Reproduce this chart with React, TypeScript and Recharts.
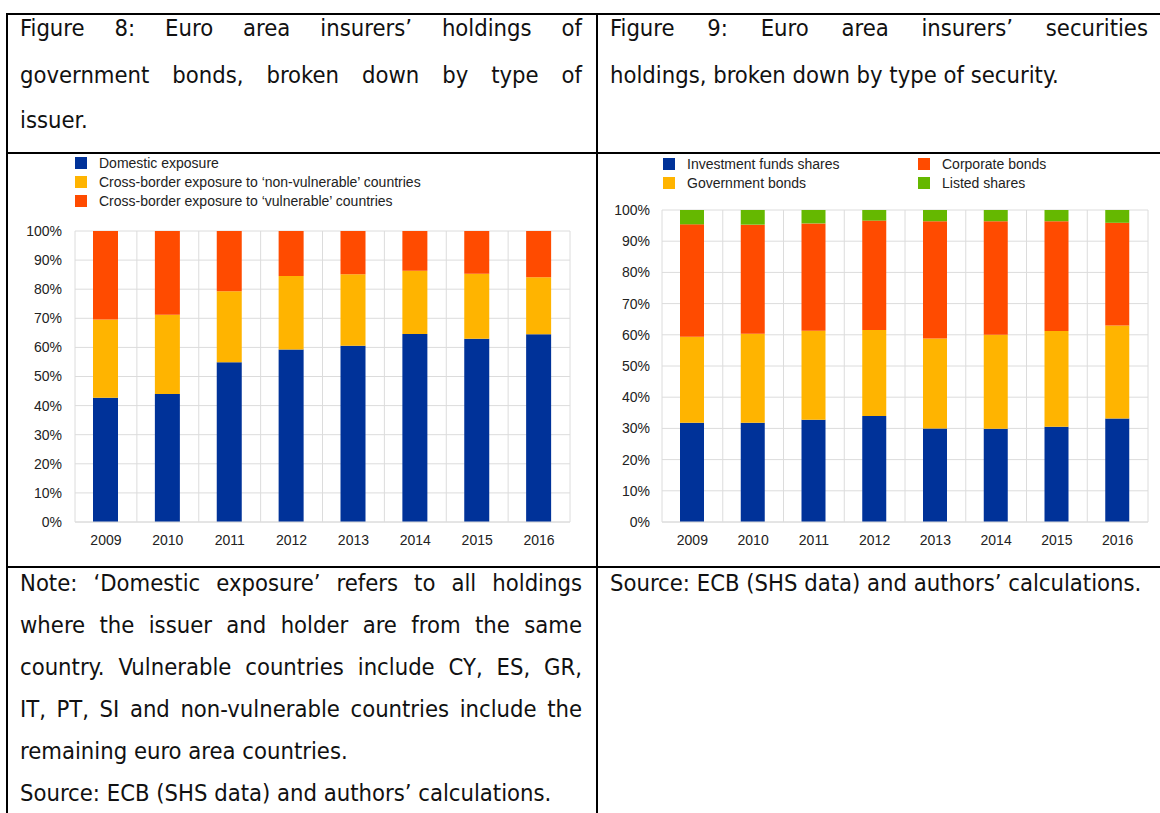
import { Bar, BarChart, CartesianGrid, XAxis, YAxis } from "recharts";

const YEARS = ["2009", "2010", "2011", "2012", "2013", "2014", "2015", "2016"];
const PCT_TICKS = [0, 10, 20, 30, 40, 50, 60, 70, 80, 90, 100];

// Figure 8: government bonds by issuer type (% of total)
const DOMESTIC = [42.7, 44.0, 54.9, 59.3, 60.6, 64.6, 63.0, 64.5];
const NON_VULNERABLE = [26.9, 27.2, 24.4, 25.2, 24.5, 21.7, 22.3, 19.6];
const VULNERABLE = [30.4, 28.8, 20.7, 15.5, 14.9, 13.7, 14.7, 15.9];

// Figure 9: securities holdings by type (% of total)
const FUND_SHARES = [31.8, 31.8, 32.8, 34.0, 30.0, 29.9, 30.5, 33.2];
const GOV_BONDS = [27.6, 28.5, 28.5, 27.5, 28.8, 30.1, 30.7, 29.8];
const CORP_BONDS = [36.0, 35.0, 34.4, 35.1, 37.6, 36.4, 35.2, 32.9];
const LISTED_SHARES = [4.6, 4.7, 4.3, 3.4, 3.6, 3.6, 3.6, 4.1];

const BLUE = "#003299";
const YELLOW = "#FFB400";
const ORANGE = "#FF4B00";
const GREEN = "#65B800";

const LEFT_SERIES = [
  { key: "domestic", label: "Domestic exposure", color: BLUE },
  { key: "nonVulnerable", label: "Cross-border exposure to \u2018non-vulnerable\u2019 countries", color: YELLOW },
  { key: "vulnerable", label: "Cross-border exposure to \u2018vulnerable\u2019 countries", color: ORANGE },
];

const RIGHT_SERIES = [
  { key: "funds", label: "Investment funds shares", color: BLUE },
  { key: "gov", label: "Government bonds", color: YELLOW },
  { key: "corp", label: "Corporate bonds", color: ORANGE },
  { key: "listed", label: "Listed shares", color: GREEN },
];

const leftData = YEARS.map((year, i) => ({
  year,
  domestic: DOMESTIC[i],
  nonVulnerable: NON_VULNERABLE[i],
  vulnerable: VULNERABLE[i],
}));

const rightData = YEARS.map((year, i) => ({
  year,
  funds: FUND_SHARES[i],
  gov: GOV_BONDS[i],
  corp: CORP_BONDS[i],
  listed: LISTED_SHARES[i],
}));

const TEXT_FONT = '"DejaVu Sans Condensed", "DejaVu Sans", sans-serif';
const TEXT_SIZE = 23.6;
const CHART_FONT = '"Liberation Sans", Arial, sans-serif';
const GRID = "#dcdcdc";

function TextLine({ x, y, w, justify, children }) {
  const lh = 30;
  return (
    <div
      style={{
        position: "absolute",
        left: x,
        top: y - lh / 2,
        width: w,
        height: lh,
        lineHeight: `${lh}px`,
        fontSize: TEXT_SIZE,
        fontFamily: TEXT_FONT,
        color: "#111",
        whiteSpace: "nowrap",
        textAlign: justify ? "justify" : "left",
        textAlignLast: justify ? "justify" : "left",
      }}
    >
      {children}
    </div>
  );
}

function LegendItem({ x, y, color, label }) {
  return (
    <div
      style={{
        position: "absolute",
        left: x,
        top: y,
        height: 12,
        display: "flex",
        alignItems: "center",
        fontFamily: CHART_FONT,
        fontSize: 14,
        color: "#222",
        whiteSpace: "nowrap",
      }}
    >
      <span style={{ width: 12, height: 12, background: color, marginRight: 12 }} />
      {label}
    </div>
  );
}

const bandLines = ({ offset }) =>
  Array.from({ length: YEARS.length + 1 }, (_, i) => offset.left + (i * offset.width) / YEARS.length);

function StackedChart({ data, series, width, height, margin, yWidth, barSize, tickGap }) {
  return (
    <BarChart width={width} height={height} data={data} margin={margin}>
      <CartesianGrid stroke={GRID} verticalCoordinatesGenerator={bandLines} />
      <XAxis
        dataKey="year"
        axisLine={{ stroke: GRID }}
        tickLine={false}
        tickSize={6}
        tickMargin={7}
        tick={{ fill: "#222", fontSize: 14, fontFamily: CHART_FONT }}
      />
      <YAxis
        width={yWidth}
        domain={[0, 100]}
        ticks={PCT_TICKS}
        interval={0}
        axisLine={false}
        tickLine={false}
        tickSize={6}
        tickMargin={tickGap}
        tickFormatter={(v) => `${v}%`}
        tick={{ fill: "#222", fontSize: 14, fontFamily: CHART_FONT }}
      />
      {series.map((s) => (
        <Bar key={s.key} dataKey={s.key} stackId="a" fill={s.color} barSize={barSize} isAnimationActive={false} />
      ))}
    </BarChart>
  );
}

export default function App() {
  return (
    <div
      style={{
        position: "absolute",
        left: 0,
        top: 0,
        width: 1160,
        height: 813,
        background: "#fff",
        overflow: "hidden",
      }}
    >
      {/* table borders */}
      <div style={{ position: "absolute", left: 6, top: 13, width: 1154, height: 2, background: "#000" }} />
      <div style={{ position: "absolute", left: 6, top: 152, width: 1154, height: 2, background: "#000" }} />
      <div style={{ position: "absolute", left: 6, top: 566, width: 1154, height: 2, background: "#000" }} />
      <div style={{ position: "absolute", left: 6, top: 13, width: 2, height: 800, background: "#000" }} />
      <div style={{ position: "absolute", left: 596, top: 13, width: 2, height: 800, background: "#000" }} />

      {/* headers */}
      <TextLine x={20} y={28} w={562} justify>
        Figure 8: Euro area insurers’ holdings of
      </TextLine>
      <TextLine x={20} y={75} w={562} justify>
        government bonds, broken down by type of
      </TextLine>
      <TextLine x={20} y={120} w={562}>
        issuer.
      </TextLine>
      <TextLine x={610} y={28} w={538} justify>
        Figure 9: Euro area insurers’ securities
      </TextLine>
      <TextLine x={610} y={75} w={538}>
        holdings, broken down by type of security.
      </TextLine>

      {/* left chart */}
      {LEFT_SERIES.map((s, i) => (
        <LegendItem key={s.key} x={75} y={157 + i * 19} color={s.color} label={s.label} />
      ))}
      <div style={{ position: "absolute", left: 8, top: 154 }}>
        <StackedChart
          data={leftData}
          series={LEFT_SERIES}
          width={589}
          height={413}
          margin={{ top: 77, right: 27, bottom: 15, left: 0 }}
          yWidth={67}
          barSize={25}
          tickGap={7}
        />
      </div>

      {/* right chart */}
      {RIGHT_SERIES.map((s, i) => (
        <LegendItem
          key={s.key}
          x={i < 2 ? 663 : 918}
          y={158 + (i % 2) * 19}
          color={s.color}
          label={s.label}
        />
      ))}
      <div style={{ position: "absolute", left: 598, top: 154 }}>
        <StackedChart
          data={rightData}
          series={RIGHT_SERIES}
          width={562}
          height={413}
          margin={{ top: 56, right: 12, bottom: 15, left: 0 }}
          yWidth={64}
          barSize={24}
          tickGap={6}
        />
      </div>

      {/* notes */}
      <TextLine x={20} y={583} w={562} justify>
        Note: ‘Domestic exposure’ refers to all holdings
      </TextLine>
      <TextLine x={20} y={625} w={562} justify>
        where the issuer and holder are from the same
      </TextLine>
      <TextLine x={20} y={667} w={562} justify>
        country. Vulnerable countries include CY, ES, GR,
      </TextLine>
      <TextLine x={20} y={709} w={562} justify>
        IT, PT, SI and non-vulnerable countries include the
      </TextLine>
      <TextLine x={20} y={751} w={562}>
        remaining euro area countries.
      </TextLine>
      <TextLine x={20} y={793} w={562}>
        Source: ECB (SHS data) and authors’ calculations.
      </TextLine>
      <TextLine x={610} y={583} w={538}>
        Source: ECB (SHS data) and authors’ calculations.
      </TextLine>
    </div>
  );
}
